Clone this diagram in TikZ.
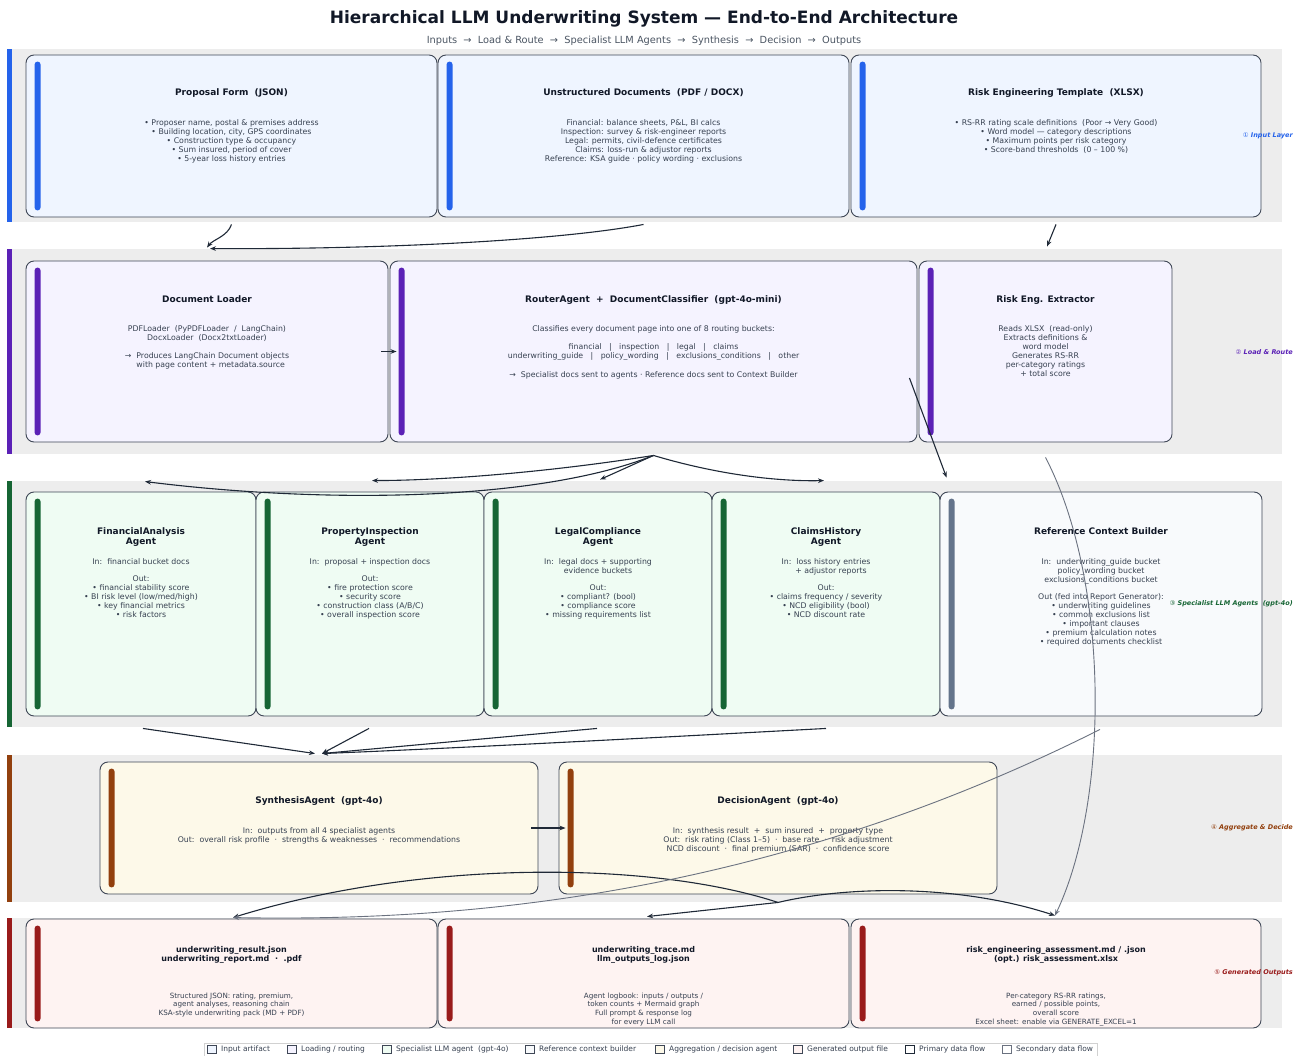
\documentclass[tikz,border=0pt]{standalone}
\usepackage{fontspec}
\setmainfont{DejaVu Sans}
\newfontfamily\circfont{DejaVu Sans}
\usetikzlibrary{
		positioning,
		arrows.meta,
		calc
	}
\definecolor{bandbg}{HTML}{EDEDED}
\definecolor{edge}{HTML}{3F4756}
\definecolor{ink}{HTML}{111827}
\definecolor{bodytxt}{HTML}{374151}
\definecolor{subtxt}{HTML}{4B5563}
\definecolor{flow}{HTML}{1F2937}
\definecolor{flowtwo}{HTML}{6B7280}
\definecolor{inC}{HTML}{2563EB}\definecolor{inF}{HTML}{EFF5FF}
\definecolor{ldC}{HTML}{5B21B6}\definecolor{ldF}{HTML}{F5F3FF}
\definecolor{spC}{HTML}{166534}\definecolor{spF}{HTML}{EFFCF3}
\definecolor{rfC}{HTML}{64748B}\definecolor{rfF}{HTML}{F8FAFC}
\definecolor{agC}{HTML}{92400E}\definecolor{agF}{HTML}{FDF9E9}
\definecolor{ouC}{HTML}{991B1B}\definecolor{ouF}{HTML}{FEF3F2}
\tikzset{
		>={Stealth[length=6pt,width=4.6pt]},
		box/.style={draw=edge, line width=0.9pt, rounded corners=8pt, inner sep=0pt},
		htitle/.style={font=\bfseries\fontsize{9}{10}\selectfont, text=ink, align=center, inner sep=0pt},
		hbody/.style={font=\fontsize{7.8}{9}\selectfont, text=bodytxt, align=center, inner sep=0pt},
		layer/.style={font=\bfseries\itshape\fontsize{6.5}{7}\selectfont, anchor=east, inner sep=0pt},
		flowA/.style={->, draw=flow, line width=1.1pt},
		flowB/.style={->, draw=flowtwo, line width=0.9pt}
	}

\begin{document}
\begin{tikzpicture}[x=1pt, y=-1pt] % one unit = one pixel of the target, y runs downwards
		\fill[white] (0,0) rectangle (1301,1056);
		\useasboundingbox (0,0) rectangle (1301,1056);

		\node[font=\bfseries\fontsize{17}{20}\selectfont, text=ink] (title) at (644,18.5) {Hierarchical LLM Underwriting System — End-to-End Architecture};
		\node[font=\fontsize{9.8}{12}\selectfont, text=subtxt] (subtitle) at (644,40.5) {Inputs~~→~~Load \& Route~~→~~Specialist LLM Agents~~→~~Synthesis~~→~~Decision~~→~~Outputs};

		% layer bands with coloured left edge
		\foreach \ya/\yb/\c in {49/222/inC, 249/454/ldC, 481/727/spC, 755/902/agC, 918/1028/ouC}{
			\fill[bandbg] (7,\ya) rectangle (1282,\yb);
			\fill[\c] (7,\ya) rectangle (12,\yb);
		}

		% (1) inputs
		\node[box, fill=inF, minimum width=411, minimum height=162] (prop) at (231.5,136) {};
		\node[box, fill=inF, minimum width=411, minimum height=162] (unstr) at (643.5,136) {};
		\node[box, fill=inF, minimum width=410, minimum height=162] (tmpl) at (1056,136) {};
		% (2) load & route
		\node[box, fill=ldF, minimum width=362, minimum height=181] (loader) at (207,351.5) {};
		\node[box, fill=ldF, minimum width=527, minimum height=181] (router) at (653.5,351.5) {};
		\node[box, fill=ldF, minimum width=253, minimum height=181] (extr) at (1045.5,351.5) {};
		% (3) specialist agents
		\node[box, fill=spF, minimum width=230, minimum height=224] (fin) at (141,604) {};
		\node[box, fill=spF, minimum width=228, minimum height=224] (prp) at (370,604) {};
		\node[box, fill=spF, minimum width=228, minimum height=224] (leg) at (598,604) {};
		\node[box, fill=spF, minimum width=228, minimum height=224] (clm) at (826,604) {};
		\node[box, fill=rfF, minimum width=322, minimum height=224] (ref) at (1101,604) {};
		% (4) aggregate & decide
		\node[box, fill=agF, minimum width=438, minimum height=132] (syn) at (319,828) {};
		\node[box, fill=agF, minimum width=438, minimum height=132] (dec) at (778,828) {};
		% (5) outputs
		\node[box, fill=ouF, minimum width=411, minimum height=109] (res) at (231.5,973.5) {};
		\node[box, fill=ouF, minimum width=411, minimum height=109] (trc) at (643.5,973.5) {};
		\node[box, fill=ouF, minimum width=410, minimum height=109] (rsk) at (1056,973.5) {};

		% accent bar inside each box
		\foreach \b/\c in {prop/inC, unstr/inC, tmpl/inC, loader/ldC, router/ldC, extr/ldC, fin/spC, prp/spC, leg/spC, clm/spC, ref/rfC, syn/agC, dec/agC, res/ouC, trc/ouC, rsk/ouC}
			\fill[\c, rounded corners=3pt] ([xshift=9pt,yshift=-7pt]\b.north west) rectangle ([xshift=15pt,yshift=7pt]\b.south west);

		% box texts
		\node[htitle, below=33.5pt of prop.north] (propT) {Proposal Form~~(JSON)};
		\node[hbody, below=65pt of prop.north] (propB) {• Proposer name, postal \& premises address\\• Building location, city, GPS coordinates\\• Construction type \& occupancy\\• Sum insured, period of cover\\• 5-year loss history entries};
		\node[htitle, below=33.5pt of unstr.north] (unstrT) {Unstructured Documents~~(PDF / DOCX)};
		\node[hbody, below=65pt of unstr.north] (unstrB) {Financial: balance sheets, P\&L, BI calcs\\Inspection: survey \& risk-engineer reports\\Legal: permits, civil-defence certificates\\Claims: loss-run \& adjustor reports\\Reference: KSA guide · policy wording · exclusions};
		\node[htitle, below=33.5pt of tmpl.north] (tmplT) {Risk Engineering Template~~(XLSX)};
		\node[hbody, below=65pt of tmpl.north] (tmplB) {• RS-RR rating scale definitions~~(Poor → Very Good)\\• Word model — category descriptions\\• Maximum points per risk category\\• Score-band thresholds~~(0 – 100 \%)};

		\node[htitle, below=34.5pt of loader.north] (loaderT) {Document Loader};
		\node[hbody, below=65pt of loader.north] (loaderB) {PDFLoader~~(PyPDFLoader~~/~~LangChain)\\DocxLoader~~(Docx2txtLoader)\\[9pt]→~~Produces LangChain Document objects\\~~~with page content + metadata.source};
		\node[htitle, below=34.5pt of router.north] (routerT) {RouterAgent~~+~~DocumentClassifier~~(gpt-4o-mini)};
		\node[hbody, below=65pt of router.north] (routerB) {Classifies every document page into one of 8 routing buckets:\\[9pt]financial~~~|~~~inspection~~~|~~~legal~~~|~~~claims\\underwriting\_guide~~~|~~~policy\_wording~~~|~~~exclusions\_conditions~~~|~~~other\\[10pt]→~~Specialist docs sent to agents · Reference docs sent to Context Builder};
		\node[htitle, below=34.5pt of extr.north] (extrT) {Risk Eng. Extractor};
		\node[hbody, below=65pt of extr.north] (extrB) {Reads XLSX~~(read-only)\\Extracts definitions \&\\word model\\Generates RS-RR\\per-category ratings\\+ total score};

		\node[htitle, below=35.5pt of fin.north] (finT) {FinancialAnalysis\\Agent};
		\node[hbody, below=67pt of fin.north] (finB) {In:~~financial bucket docs\\[8pt]Out:\\• financial stability score\\• BI risk level (low/med/high)\\• key financial metrics\\• risk factors};
		\node[htitle, below=35.5pt of prp.north] (prpT) {PropertyInspection\\Agent};
		\node[hbody, below=67pt of prp.north] (prpB) {In:~~proposal + inspection docs\\[8pt]Out:\\• fire protection score\\• security score\\• construction class (A/B/C)\\• overall inspection score};
		\node[htitle, below=35.5pt of leg.north] (legT) {LegalCompliance\\Agent};
		\node[hbody, below=67pt of leg.north] (legB) {In:~~legal docs + supporting\\evidence buckets\\[8pt]Out:\\• compliant? (bool)\\• compliance score\\• missing requirements list};
		\node[htitle, below=35.5pt of clm.north] (clmT) {ClaimsHistory\\Agent};
		\node[hbody, below=67pt of clm.north] (clmB) {In:~~loss history entries\\~~~~+ adjustor reports\\[8pt]Out:\\• claims frequency / severity\\• NCD eligibility (bool)\\• NCD discount rate};
		\node[htitle, below=35.5pt of ref.north] (refT) {Reference Context Builder};
		\node[hbody, below=67pt of ref.north] (refB) {In:~~underwriting\_guide bucket\\policy\_wording bucket\\exclusions\_conditions bucket\\[8pt]Out (fed into Report Generator):\\• underwriting guidelines\\• common exclusions list\\• important clauses\\• premium calculation notes\\• required documents checklist};

		\node[htitle, below=34.5pt of syn.north] (synT) {SynthesisAgent~~(gpt-4o)};
		\node[hbody, below=66pt of syn.north] (synB) {In:~~outputs from all 4 specialist agents\\Out:~~overall risk profile~~·~~strengths \& weaknesses~~·~~recommendations};
		\node[htitle, below=34.5pt of dec.north] (decT) {DecisionAgent~~(gpt-4o)};
		\node[hbody, below=66pt of dec.north] (decB) {In:~~synthesis result~~+~~sum insured~~+~~property type\\Out:~~risk rating (Class 1–5)~~·~~base rate~~·~~risk adjustment\\NCD discount~~·~~final premium (SAR)~~·~~confidence score};

		\node[htitle, font=\bfseries\fontsize{8}{9}\selectfont, below=28pt of res.north] (resT) {underwriting\_result.json\\underwriting\_report.md~~·~~.pdf};
		\node[hbody, font=\fontsize{7.2}{8.6}\selectfont, below=74pt of res.north] (resB) {Structured JSON: rating, premium,\\agent analyses, reasoning chain\\KSA-style underwriting pack (MD + PDF)};
		\node[htitle, font=\bfseries\fontsize{8}{9}\selectfont, below=28pt of trc.north] (trcT) {underwriting\_trace.md\\llm\_outputs\_log.json};
		\node[hbody, font=\fontsize{7.2}{8.6}\selectfont, below=74pt of trc.north] (trcB) {Agent logbook: inputs / outputs /\\token counts + Mermaid graph\\Full prompt \& response log\\for every LLM call};
		\node[htitle, font=\bfseries\fontsize{8}{9}\selectfont, below=28pt of rsk.north] (rskT) {risk\_engineering\_assessment.md / .json\\(opt.) risk\_assessment.xlsx};
		\node[hbody, font=\fontsize{7.2}{8.6}\selectfont, below=74pt of rsk.north] (rskB) {Per-category RS-RR ratings,\\earned / possible points,\\overall score\\Excel sheet: enable via GENERATE\_EXCEL=1};

		% layer names on the right
		\node[layer, text=inC] (lay1) at (1293,136) {{\circfont\mdseries\upshape ①} Input Layer};
		\node[layer, text=ldC] (lay2) at (1293,352) {{\circfont\mdseries\upshape ②} Load \& Route};
		\node[layer, text=spC] (lay3) at (1293,604) {{\circfont\mdseries\upshape ③} Specialist LLM Agents~~(gpt-4o)};
		\node[layer, text=agC] (lay4) at (1293,828) {{\circfont\mdseries\upshape ④} Aggregate \& Decide};
		\node[layer, text=ouC] (lay5) at (1293,973) {{\circfont\mdseries\upshape ⑤} Generated Outputs};

		% primary data flow
		\draw[flowA] ([yshift=-7pt]prop.south) .. controls +(-4,12) and +(6,-8) .. ([yshift=13pt]loader.north);
		\draw[flowA] ([yshift=-7pt]unstr.south) .. controls +(-83,16) and +(170,1) .. ([xshift=3pt,yshift=12pt]loader.north);
		\draw[flowA] ([yshift=-7pt]tmpl.south) -- ([xshift=1.5pt,yshift=14pt]extr.north);
		\draw[flowA] ([xshift=-7pt]loader.east) -- ([xshift=7pt]router.west);
		\draw[flowA] ([yshift=-13pt]router.south) .. controls +(-113,45) and +(185,23) .. ([xshift=4pt,yshift=10pt]fin.north);
		\draw[flowA] ([yshift=-13pt]router.south) .. controls +(-93,15) and +(78,0) .. ([xshift=2pt,yshift=11pt]prp.north);
		\draw[flowA] ([yshift=-13pt]router.south) -- ([xshift=2pt,yshift=12pt]leg.north);
		\draw[flowA] ([yshift=-13pt]router.south) .. controls +(67,20) and +(-44,1) .. ([xshift=-2pt,yshift=11pt]clm.north);
		\draw[flowA] ([xshift=-8pt,yshift=-26.5pt]router.east) -- ([xshift=7pt,yshift=14pt]ref.north west);
		\draw[flowA] ([xshift=2pt,yshift=-12pt]fin.south) -- ([xshift=-4pt,yshift=8pt]syn.north);
		\draw[flowA] ([xshift=-1pt,yshift=-12pt]prp.south) -- ([xshift=3pt,yshift=8pt]syn.north);
		\draw[flowA] ([xshift=-1pt,yshift=-12pt]leg.south) -- ([xshift=3pt,yshift=8pt]syn.north);
		\draw[flowA] ([yshift=-12pt]clm.south) .. controls +(-150,8) and +(150,-6) .. ([xshift=3pt,yshift=8pt]syn.north);
		\draw[flowA] ([xshift=-7pt]syn.east) -- ([xshift=7pt]dec.west);
		\draw[flowA] ([yshift=-8pt]dec.south) .. controls +(-128,-42) and +(187,-58) .. ([xshift=1.5pt,yshift=1pt]res.north);
		\draw[flowA] ([yshift=-8pt]dec.south) -- ([xshift=3.5pt,yshift=2pt]trc.north);
		\draw[flowA] ([yshift=-8pt]dec.south) .. controls +(72,-17) and +(-95,-31) .. ([xshift=-1pt,yshift=3pt]rsk.north);

		% secondary data flow
		\draw[flowB] ([yshift=-15pt]extr.south) .. controls +(64,123) and +(55,-116) .. ([xshift=-1pt,yshift=3pt]rsk.north);
		\draw[flowB] ([xshift=-1pt,yshift=-13pt]ref.south) .. controls +(-340,171) and +(217,4) .. ([xshift=1.5pt,yshift=1pt]res.north);

		% legend
		\draw[draw=black!18, fill=white] (204,1043) rectangle (1097,1056);
		\foreach[count=\i] \lx/\lf/\ld/\lt in {207/inF/edge/{Input artifact}, 287/ldF/edge/{Loading / routing}, 382/spF/edge/{Specialist LLM agent~~(gpt-4o)}, 525/rfF/edge/{Reference context builder}, 655/agF/edge/{Aggregation / decision agent}, 793/ouF/edge/{Generated output file}, 905/white/flow/{Primary data flow}, 1002/white/flowtwo/{Secondary data flow}}{
			\draw[draw=\ld, fill=\lf, line width=0.6pt] (\lx,1045) rectangle ++(9,8);
			\node[font=\fontsize{7.5}{8}\selectfont, text=bodytxt, anchor=west, inner sep=0pt] (leg\i) at (\lx+14,1049) {\lt};
		}
\end{tikzpicture}
\end{document}
